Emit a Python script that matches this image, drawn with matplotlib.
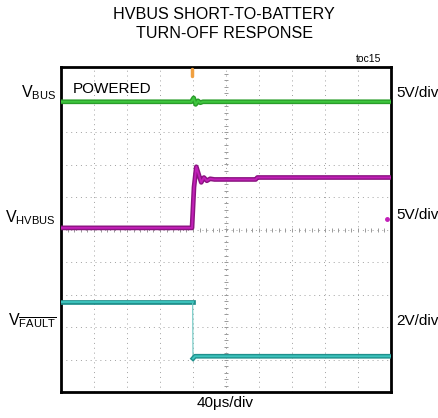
import matplotlib
matplotlib.use("Agg")
import matplotlib.pyplot as plt
import numpy as np

plt.rcParams['font.family'] = ['Liberation Sans', 'DejaVu Sans']
plt.rcParams['mathtext.fontset'] = 'custom'
plt.rcParams['mathtext.rm'] = 'Liberation Sans'
plt.rcParams['mathtext.it'] = 'Liberation Sans'

# ---- data (in scope divisions) ----
vbus_t = [0, 3.95, 4.02, 4.08, 4.15, 4.22, 4.3, 10]
vbus_v = [8.93, 8.93, 9.05, 8.85, 8.96, 8.9, 8.93, 8.93]

hvbus_t = [0, 3.97, 4.03, 4.1, 4.17, 4.25, 4.33, 4.42, 4.52, 4.65, 5.9, 5.95, 10]
hvbus_v = [5.05, 5.05, 6.3, 6.93, 6.7, 6.45, 6.6, 6.5, 6.56, 6.54, 6.54, 6.6, 6.6]

fault_t = [0, 3.99, 4.0, 4.06, 10]
fault_v = [2.76, 2.76, 1.03, 1.1, 1.1]

trig_t = 3.97
title = "HVBUS SHORT-TO-BATTERY\nTURN-OFF RESPONSE"
left_labels = [r"V$_{\mathrm{BUS}}$", r"V$_{\mathrm{HVBUS}}$", r"V$_{\overline{\mathrm{FAULT}}}$"]
right_labels = ["5V/div", "5V/div", "2V/div"]
xlabel = "40\u03bcs/div"

W, H = 438, 418
fig = plt.figure(figsize=(W / 100, H / 100), dpi=100)
ax = fig.add_axes([61 / W, 1 - 392 / H, 330 / W, 325 / H])
ax.set_xlim(0, 10)
ax.set_ylim(0, 10)
ax.set_xticks([])
ax.set_yticks([])
for s in ax.spines.values():
    s.set_linewidth(2)

# grid
for g in range(1, 10):
    ax.axvline(g, color='#a0a0a0', lw=0.7, ls=(0, (1, 4)), zorder=0)
    ax.axhline(g, color='#a0a0a0', lw=0.7, ls=(0, (1, 4)), zorder=0)
tk = np.arange(0.2, 10, 0.2)
ax.plot(np.full_like(tk, 5), tk, ls='none', marker='_', ms=3, mew=0.7, color='#999999', zorder=0)
ax.plot(tk, np.full_like(tk, 5), ls='none', marker='|', ms=3, mew=0.7, color='#999999', zorder=0)

# traces
ax.plot(vbus_t, vbus_v, color='#2a9d2a', lw=3.4, solid_joinstyle='round', zorder=3)
ax.plot(vbus_t, vbus_v, color='#3ec63e', lw=1.4, zorder=4)
ax.plot(hvbus_t, hvbus_v, color='#8a1480', lw=3.4, zorder=3)
ax.plot(hvbus_t, hvbus_v, color='#c21fb8', lw=1.4, zorder=4)
ax.plot(fault_t[:2], fault_v[:2], color='#20908c', lw=3.4, zorder=3)
ax.plot(fault_t[:2], fault_v[:2], color='#3cc3bd', lw=1.4, zorder=4)
ax.plot(fault_t[1:3], fault_v[1:3], color='#6cc7c2', lw=0.8, zorder=3)
ax.plot(fault_t[2:], fault_v[2:], color='#20908c', lw=3.4, zorder=3)
ax.plot(fault_t[2:], fault_v[2:], color='#3cc3bd', lw=1.4, zorder=4)

# trigger marker and channel marker
ax.plot([trig_t, trig_t], [9.72, 9.95], color='#f0a040', lw=2.5, solid_capstyle='round', zorder=5)
ax.plot([9.88], [5.32], marker='o', ms=2.5, color='#c21fb8', zorder=5)

def fx(x):
    return x / W

def fy(y):
    return 1 - y / H

fig.text(fx(224), fy(24), title, ha='center', va='center', fontsize=11.6,
         linespacing=1.4)
fig.text(fx(369), fy(59), "toc15", ha='center', va='center', fontsize=7.5)
fig.text(fx(73), fy(93), "POWERED", ha='left', va='baseline', fontsize=11)
for lab, yb in zip(left_labels, [97, 222, 325]):
    fig.text(fx(56), fy(yb), lab, ha='right', va='baseline', fontsize=11.5)
for lab, yb in zip(right_labels, [97, 219, 325]):
    fig.text(fx(396), fy(yb), lab, ha='left', va='baseline', fontsize=11)
fig.text(fx(225), fy(403), xlabel, ha='center', va='center', fontsize=11)

fig.savefig("out.png", dpi=100)
